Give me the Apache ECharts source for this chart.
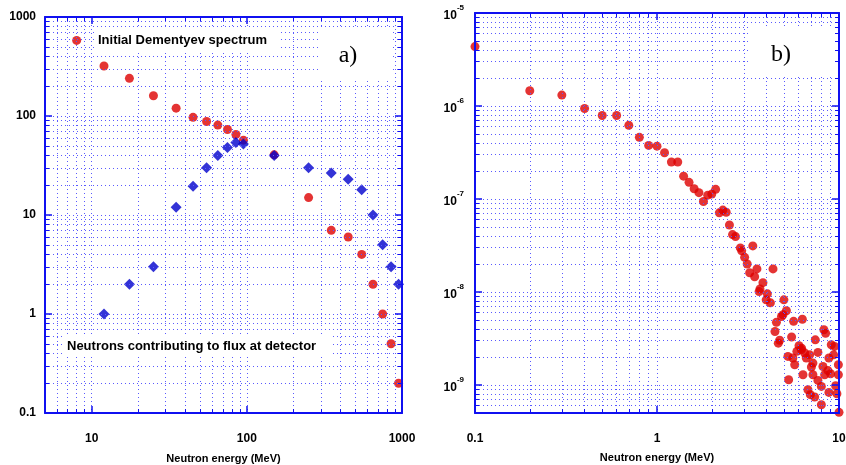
<!DOCTYPE html>
<html>
<head>
<meta charset="utf-8">
<script src="https://cdn.jsdelivr.net/npm/echarts/dist/echarts.min.js"></script>
<style>
html,body{margin:0;padding:0;background:#fff;}
#chart{width:846px;height:465px;}
</style>
</head>
<body>
<div id="chart"></div>
<script>
// ---------- Panel a) data ----------
const energyInitial = [8, 12, 17.5, 25, 35, 45, 55, 65, 75, 85, 95, 150, 250, 350, 450, 550, 650, 750, 850, 950];
const initialSpectrum = [580, 320, 240, 160, 120, 97, 88, 81, 73, 65, 57, 40.5, 15, 7, 6, 4, 2, 1, 0.5, 0.2];
const energyContrib = [12, 17.5, 25, 35, 45, 55, 65, 75, 85, 95, 150, 250, 350, 450, 550, 650, 750, 850, 950];
const contributing = [1, 2, 3, 12, 19.5, 30, 40, 48, 54, 52, 40, 30, 26.5, 23, 18, 10, 5, 3, 2];

// ---------- Panel b) data ----------
const energyB = [0.1, 0.2, 0.3, 0.4, 0.5, 0.6, 0.7, 0.8, 0.9, 1.0,
  1.1, 1.2, 1.3, 1.4, 1.5, 1.6, 1.7, 1.8, 1.9, 2.0,
  2.1, 2.2, 2.3, 2.4, 2.5, 2.6, 2.7, 2.87, 2.92, 3.36,
  3.03, 3.13, 3.54, 4.34, 3.23, 3.44, 3.82, 3.68, 3.64, 4.04,
  3.98, 4.20, 4.98, 5.14, 4.92, 4.83, 4.53, 5.63, 6.29, 4.45,
  8.26, 8.44, 5.49, 4.72, 4.64, 7.41, 6.03, 6.23, 9.46, 6.21,
  6.48, 5.87, 5.58, 5.24, 6.90, 6.61, 7.66, 9.07, 9.34, 8.80,
  5.71, 7.19, 7.05, 8.16, 8.69, 8.99, 9.92, 6.34, 7.19, 9.92,
  5.29, 7.66, 8.0, 9.58, 6.75, 6.96, 7.35, 8.80, 9.74, 8.0,
  10.0, 8.34];
const fluxB = [4.35e-6, 1.46e-6, 1.31e-6, 9.4e-7, 7.9e-7, 7.9e-7, 6.2e-7, 4.6e-7, 3.77e-7, 3.7e-7,
  3.14e-7, 2.5e-7, 2.5e-7, 1.76e-7, 1.51e-7, 1.29e-7, 1.17e-7, 9.4e-8, 1.1e-7, 1.13e-7,
  1.27e-7, 7.1e-8, 7.6e-8, 7.2e-8, 5.26e-8, 4.14e-8, 3.94e-8, 2.98e-8, 2.77e-8, 3.13e-8,
  2.36e-8, 2.0e-8, 1.77e-8, 1.77e-8, 1.61e-8, 1.46e-8, 1.26e-8, 1.08e-8, 1.01e-8, 9.55e-9,
  8.24e-9, 7.65e-9, 8.24e-9, 6.28e-9, 5.69e-9, 5.45e-9, 4.72e-9, 4.84e-9, 5.09e-9, 3.76e-9,
  3.93e-9, 3.6e-9, 3.28e-9, 3.03e-9, 2.82e-9, 3.06e-9, 2.64e-9, 2.49e-9, 2.6e-9, 2.39e-9,
  2.21e-9, 2.3e-9, 1.95e-9, 2.03e-9, 2.11e-9, 1.95e-9, 2.24e-9, 2.71e-9, 2.11e-9, 1.95e-9,
  1.65e-9, 1.72e-9, 1.56e-9, 1.58e-9, 1.43e-9, 1.32e-9, 1.65e-9, 1.29e-9, 1.29e-9, 1.29e-9,
  1.14e-9, 1.12e-9, 9.66e-10, 9.83e-10, 8.9e-10, 7.87e-10, 7.43e-10, 8.33e-10, 8.06e-10, 6.14e-10,
  5.08e-10, 1.29e-9];

// ---------- Tick labels ----------
const xTicksA = [10, 100, 1000];
const xTickLabelsA = ['10', '100', '1000'];
const yTicksA = [0.1, 1, 10, 100, 1000];
const yTickLabelsA = ['0.1', '1', '10', '100', '1000'];
const xTicksB = [0.1, 1, 10];
const xTickLabelsB = ['0.1', '1', '10'];
const yTicksB = [1e-9, 1e-8, 1e-7, 1e-6, 1e-5];
const yExpLabelsB = ['-9', '-8', '-7', '-6', '-5'];

const BLUE = '#1010f0';
const GRIDC = '#5a5aff';
const RED = '#dd0000';
const DBLUE = '#0000cc';
const FONT = '"Liberation Sans", Arial, Helvetica, sans-serif';

function matchTick(v, ticks) {
  const l = Math.log10(v);
  for (let i = 0; i < ticks.length; i++) {
    if (Math.abs(l - Math.log10(ticks[i])) < 1e-6) return i;
  }
  return -1;
}
function plainFormatter(ticks, labels) {
  return function (v) { const i = matchTick(v, ticks); return i < 0 ? '' : labels[i]; };
}
function expFormatter(ticks, exps) {
  return function (v) { const i = matchTick(v, ticks); return i < 0 ? '' : '{m|10}{e|' + exps[i] + '}'; };
}

function logAxis(o) {
  const main = o.main;
  return {
    type: 'log', logBase: 10, gridIndex: o.grid, min: o.min, max: o.max, position: o.position,
    axisLine: { show: true, onZero: false, lineStyle: { color: BLUE, width: 2 } },
    axisTick: { show: true, inside: true, length: 7, lineStyle: { color: BLUE, width: 1.5 } },
    minorTick: { show: true, splitNumber: 9, length: 4, lineStyle: { color: BLUE, width: 1 } },
    splitLine: { show: main, lineStyle: { color: GRIDC, type: [1, 3], width: 1, opacity: 1 } },
    minorSplitLine: { show: main, lineStyle: { color: GRIDC, type: [1, 3], width: 1, opacity: 1 } },
    axisLabel: main ? Object.assign({ show: true, color: '#000', fontSize: 12, fontWeight: 'bold', fontFamily: FONT }, o.label) : { show: false },
    name: o.name || '', nameLocation: 'middle', nameGap: o.nameGap || 0,
    nameTextStyle: { color: '#000', fontSize: 11, fontWeight: 'bold', fontFamily: FONT },
    z: 5
  };
}

const chart = echarts.init(document.getElementById('chart'), null, { renderer: 'canvas' });
const option = {
  animation: false,
  backgroundColor: '#fff',
  grid: [
    { left: 45, top: 17, width: 357, height: 396, containLabel: false, outerBoundsMode: 'none' },
    { left: 475, top: 13, width: 364, height: 400, containLabel: false, outerBoundsMode: 'none' }
  ],
  xAxis: [
    logAxis({ grid: 0, min: 5, max: 1000, position: 'bottom', main: true,
      label: { formatter: plainFormatter(xTicksA, xTickLabelsA), margin: 20 },
      name: 'Neutron energy (MeV)', nameGap: 40 }),
    logAxis({ grid: 0, min: 5, max: 1000, position: 'top', main: false }),
    logAxis({ grid: 1, min: 0.1, max: 10, position: 'bottom', main: true,
      label: { formatter: plainFormatter(xTicksB, xTickLabelsB), margin: 20 },
      name: 'Neutron energy (MeV)', nameGap: 39 }),
    logAxis({ grid: 1, min: 0.1, max: 10, position: 'top', main: false })
  ],
  yAxis: [
    logAxis({ grid: 0, min: 0.1, max: 1000, position: 'left', main: true,
      label: { formatter: plainFormatter(yTicksA, yTickLabelsA), margin: 9 } }),
    logAxis({ grid: 0, min: 0.1, max: 1000, position: 'right', main: false }),
    logAxis({ grid: 1, min: 5e-10, max: 1e-5, position: 'left', main: true,
      label: { formatter: expFormatter(yTicksB, yExpLabelsB), margin: 11,
        rich: {
          m: { fontSize: 12, fontWeight: 'bold', fontFamily: FONT, color: '#000', lineHeight: 18, verticalAlign: 'bottom' },
          e: { fontSize: 8, fontWeight: 'bold', fontFamily: FONT, color: '#000', lineHeight: 10, verticalAlign: 'top' }
        } } }),
    logAxis({ grid: 1, min: 5e-10, max: 1e-5, position: 'right', main: false })
  ],
  series: [
    { type: 'scatter', xAxisIndex: 0, yAxisIndex: 0, clip: false, z: 3,
      symbol: 'circle', symbolSize: 9, itemStyle: { color: RED },
      data: energyInitial.map((e, i) => [e, initialSpectrum[i]]) },
    { type: 'scatter', xAxisIndex: 0, yAxisIndex: 0, clip: false, z: 4,
      symbol: 'diamond', symbolSize: 11, itemStyle: { color: DBLUE },
      data: energyContrib.map((e, i) => [e, contributing[i]]) },
    { type: 'scatter', xAxisIndex: 2, yAxisIndex: 2, clip: false, z: 3,
      symbol: 'circle', symbolSize: 9, itemStyle: { color: RED },
      data: energyB.map((e, i) => [e, fluxB[i]]) }
  ],
  graphic: [
    { type: 'rect', z: 100, shape: { x: 95, y: 29, width: 185, height: 22 }, style: { fill: '#fff' } },
    { type: 'text', z: 101, x: 98, y: 40, style: { text: 'Initial Dementyev spectrum', fill: '#000',
      fontSize: 13, fontWeight: 'bold', fontFamily: FONT, align: 'left', verticalAlign: 'middle' } },
    { type: 'rect', z: 100, shape: { x: 62, y: 334, width: 268, height: 23 }, style: { fill: '#fff' } },
    { type: 'text', z: 101, x: 67, y: 346, style: { text: 'Neutrons contributing to flux at detector', fill: '#000',
      fontSize: 13, fontWeight: 'bold', fontFamily: FONT, align: 'left', verticalAlign: 'middle' } },
    { type: 'rect', z: 100, shape: { x: 318, y: 27, width: 74, height: 51 }, style: { fill: '#fff' } },
    { type: 'text', z: 101, x: 348, y: 56, style: { text: 'a)', fill: '#000',
      fontSize: 24, fontFamily: '"Liberation Serif", "Times New Roman", serif', align: 'center', verticalAlign: 'middle' } },
    { type: 'rect', z: 100, shape: { x: 750, y: 27, width: 83, height: 48 }, style: { fill: '#fff' } },
    { type: 'text', z: 101, x: 781, y: 55, style: { text: 'b)', fill: '#000',
      fontSize: 24, fontFamily: '"Liberation Serif", "Times New Roman", serif', align: 'center', verticalAlign: 'middle' } }
  ]
};
chart.setOption(option);
</script>
</body>
</html>
